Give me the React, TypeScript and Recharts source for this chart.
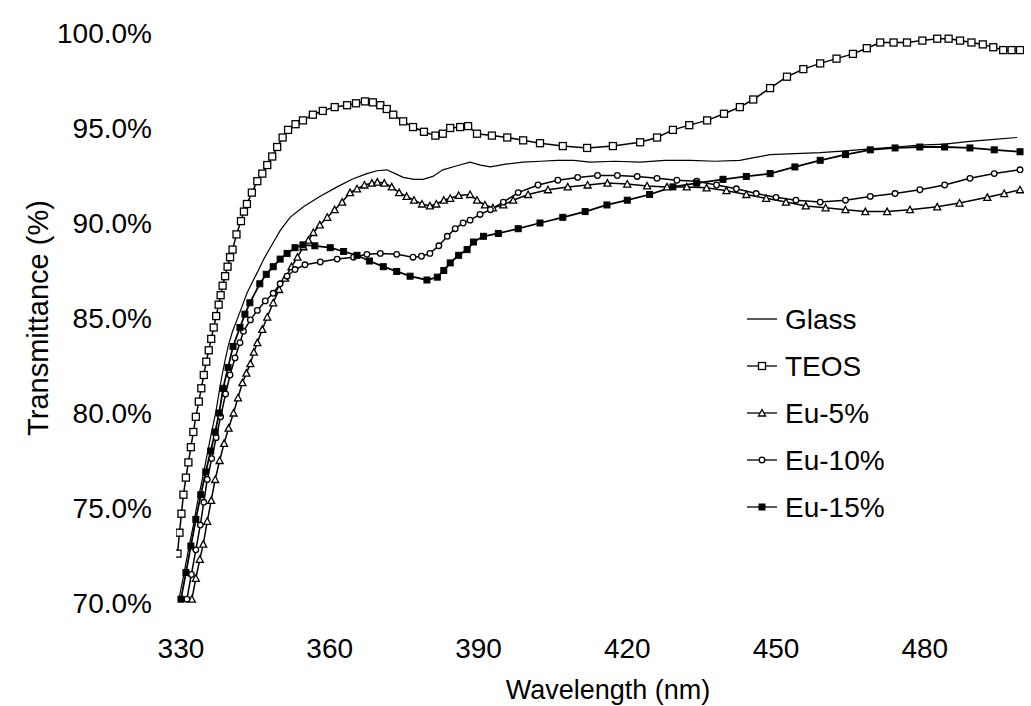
import React from 'react';
import { LineChart, Line, XAxis, YAxis } from 'recharts';

type Pt = [number, number]; // [wavelength nm, transmittance %]

const glass: Pt[] = [
  [329.6, 70.2], [330.5, 71.4], [331.5, 72.8], [332.5, 74.1], [333.4, 75.4], [334.3, 76.5], [335.2, 77.7],
  [336.1, 78.9], [337.0, 80.0], [337.7, 81.1], [338.3, 82.0], [339.0, 82.9], [339.6, 83.6], [340.4, 84.3],
  [341.3, 84.9], [342.3, 85.6], [343.3, 86.3], [344.4, 86.9], [345.4, 87.4], [346.7, 88.1], [348.0, 88.7],
  [350.0, 89.6], [352.0, 90.3], [354.7, 90.85], [358.0, 91.4], [361.5, 91.9], [364.5, 92.3], [367.5, 92.6],
  [369.5, 92.75], [371.5, 92.8], [373.2, 92.6], [374.8, 92.4], [377.0, 92.3], [378.8, 92.3], [380.8, 92.45],
  [382.8, 92.8], [385.5, 93.0], [388.3, 93.2], [390.4, 93.05], [392.4, 92.95], [395.5, 93.1], [399.0, 93.2],
  [402.5, 93.25], [405.9, 93.3], [409.2, 93.3], [412.5, 93.2], [417.5, 93.25], [422.6, 93.2], [427.6, 93.3],
  [432.7, 93.3], [437.7, 93.25], [442.7, 93.3], [445.8, 93.45], [448.8, 93.6], [453.8, 93.65], [458.9, 93.7],
  [464.0, 93.8], [469.0, 93.9], [474.0, 94.0], [479.0, 94.1], [484.0, 94.15], [489.1, 94.3], [494.0, 94.4],
  [498.6, 94.5],
];

const teos: Pt[] = [
  [329.3, 72.6], [329.7, 73.7], [330.1, 74.7], [330.5, 75.7], [331.0, 76.6], [331.5, 77.4], [332.0, 78.2],
  [332.5, 79.0], [333.0, 79.8], [333.6, 80.6], [334.1, 81.3], [334.6, 82.0], [335.1, 82.7], [335.6, 83.3],
  [336.1, 83.9], [336.6, 84.5], [337.1, 85.1], [337.6, 85.7], [338.0, 86.2], [338.4, 86.7], [338.9, 87.2],
  [339.4, 87.7], [339.9, 88.2], [340.4, 88.6], [341.2, 89.4], [342.1, 90.1], [342.7, 90.6], [343.3, 91.0],
  [344.3, 91.6], [345.4, 92.2], [346.4, 92.6], [347.4, 93.05], [348.4, 93.5], [349.4, 94.0], [350.5, 94.5],
  [351.6, 94.9], [353.1, 95.2], [354.6, 95.4], [356.6, 95.7], [358.6, 95.9], [361.0, 96.1], [363.5, 96.2],
  [365.3, 96.3], [367.1, 96.4], [368.7, 96.35], [370.2, 96.2], [371.5, 96.0], [372.8, 95.7], [374.8, 95.35],
  [376.8, 95.05], [379.0, 94.8], [381.3, 94.6], [382.8, 94.7], [384.3, 95.0], [386.3, 95.05], [387.9, 95.1],
  [389.7, 94.7], [392.7, 94.6], [395.8, 94.5], [399.0, 94.35], [402.4, 94.2], [407.0, 94.05], [411.9, 93.95],
  [417.1, 94.05], [422.6, 94.25], [426.0, 94.5], [429.2, 94.9], [432.5, 95.15], [436.1, 95.4], [439.5, 95.75],
  [442.7, 96.1], [445.4, 96.5], [448.8, 97.1], [452.2, 97.7], [455.5, 98.1], [458.9, 98.4], [462.2, 98.65],
  [465.5, 98.9], [468.3, 99.2], [471.0, 99.5], [473.7, 99.5], [476.4, 99.5], [479.5, 99.6], [482.5, 99.7],
  [484.8, 99.7], [487.1, 99.6], [489.4, 99.5], [491.7, 99.4], [493.8, 99.25], [495.8, 99.1], [497.5, 99.1],
  [499.2, 99.1],
];

const eu5: Pt[] = [
  [332.2, 70.2], [333.0, 71.3], [333.8, 72.3], [334.5, 73.1], [335.3, 74.3], [336.1, 75.4], [336.9, 76.5],
  [337.8, 77.5], [338.7, 78.4], [339.6, 79.2], [340.6, 80.0], [341.5, 80.8], [342.4, 81.6], [343.2, 82.1],
  [344.0, 82.6], [344.7, 83.2], [345.4, 83.7], [346.4, 84.4], [347.4, 85.05], [348.6, 85.8], [349.8, 86.5],
  [351.0, 87.1], [352.3, 87.7], [353.5, 88.2], [354.7, 88.75], [355.7, 89.1], [356.7, 89.5], [358.0, 89.9],
  [359.5, 90.3], [361.0, 90.7], [362.5, 91.1], [364.1, 91.6], [365.5, 91.8], [367.0, 92.0], [368.5, 92.1],
  [369.6, 92.15], [371.0, 92.1], [372.5, 91.9], [374.0, 91.6], [375.5, 91.4], [377.0, 91.2], [378.6, 91.0],
  [380.2, 90.9], [381.5, 91.0], [383.0, 91.2], [384.3, 91.3], [386.0, 91.45], [388.3, 91.5], [389.7, 91.2],
  [391.3, 90.95], [392.9, 90.8], [395.0, 90.95], [397.0, 91.2], [400.0, 91.5], [404.0, 91.75], [408.0, 91.9],
  [412.0, 92.0], [416.0, 92.1], [420.0, 92.05], [424.0, 91.95], [428.0, 91.9], [432.0, 91.9], [436.0, 91.85],
  [440.0, 91.7], [444.0, 91.5], [448.0, 91.3], [452.0, 91.1], [456.0, 90.9], [460.0, 90.8], [464.0, 90.7],
  [468.0, 90.6], [472.4, 90.6], [477.0, 90.7], [482.5, 90.85], [487.0, 91.05], [492.6, 91.35], [496.0, 91.55],
  [499.2, 91.75],
];

const eu10: Pt[] = [
  [331.2, 70.2], [332.1, 71.5], [333.0, 72.8], [333.9, 74.1], [334.6, 75.3], [335.3, 76.5], [336.2, 77.6],
  [337.1, 78.7], [338.0, 79.8], [339.0, 81.0], [339.9, 82.0], [340.9, 82.9], [341.9, 83.7], [342.6, 84.3],
  [344.0, 84.9], [345.4, 85.4], [347.0, 85.9], [348.6, 86.3], [350.0, 86.8], [351.4, 87.2], [353.0, 87.55],
  [355.0, 87.8], [358.1, 87.95], [361.5, 88.1], [364.8, 88.2], [367.5, 88.35], [370.2, 88.4], [373.5, 88.35],
  [376.8, 88.2], [378.5, 88.25], [380.2, 88.4], [382.0, 88.8], [383.7, 89.3], [385.3, 89.7], [386.9, 90.0],
  [388.3, 90.15], [390.3, 90.45], [392.4, 90.7], [395.0, 91.1], [398.0, 91.6], [402.0, 92.0], [406.0, 92.25],
  [410.0, 92.4], [414.0, 92.5], [418.0, 92.5], [422.0, 92.45], [426.0, 92.35], [430.0, 92.25], [434.0, 92.2],
  [438.0, 92.0], [442.0, 91.8], [446.0, 91.55], [450.0, 91.35], [454.0, 91.2], [458.9, 91.1], [464.0, 91.2],
  [469.0, 91.4], [474.0, 91.55], [479.0, 91.75], [484.0, 92.0], [489.1, 92.35], [494.0, 92.6], [499.2, 92.8],
];

const eu15: Pt[] = [
  [330.0, 70.2], [331.0, 71.6], [332.0, 73.0], [333.0, 74.4], [334.0, 75.7], [335.0, 76.9], [336.0, 78.0],
  [336.9, 79.0], [337.7, 80.0], [338.5, 81.3], [339.5, 82.4], [340.5, 83.5], [341.9, 84.5], [342.9, 85.2],
  [343.9, 85.8], [345.9, 86.8], [347.2, 87.3], [348.6, 87.7], [350.0, 88.1], [351.4, 88.4], [353.0, 88.7],
  [354.6, 88.85], [357.0, 88.8], [360.1, 88.7], [362.8, 88.5], [365.5, 88.3], [368.0, 88.0], [370.8, 87.7],
  [373.5, 87.45], [376.2, 87.2], [379.6, 87.0], [381.7, 87.15], [383.0, 87.5], [384.3, 87.9], [386.0, 88.3],
  [387.7, 88.6], [389.0, 89.0], [391.0, 89.3], [394.0, 89.45], [398.0, 89.7], [402.4, 90.0], [407.0, 90.3],
  [411.5, 90.6], [415.9, 90.95], [420.0, 91.2], [424.5, 91.5], [429.2, 91.9], [434.0, 92.1], [439.3, 92.3],
  [444.0, 92.45], [448.8, 92.6], [453.8, 92.95], [458.9, 93.3], [464.0, 93.6], [469.0, 93.85], [474.0, 93.95],
  [479.0, 94.0], [484.0, 94.0], [489.1, 93.95], [494.0, 93.85], [499.2, 93.75],
];

const xTicks = [330, 360, 390, 420, 450, 480];
const yTicks = [70, 75, 80, 85, 90, 95, 100];
const legendNames = ['Glass', 'TEOS', 'Eu-5%', 'Eu-10%', 'Eu-15%'];

const FONT = '"Liberation Sans", Arial, Helvetica, sans-serif';

const rows = (pts: Pt[]) => pts.map(([wl, t]) => ({ wl, t }));

// marker shapes
function square(cx: number, cy: number, key?: any) {
  return <rect key={key} x={cx - 3.5} y={cy - 3.5} width={7} height={7} fill="#fff" stroke="#000" strokeWidth={1.3} />;
}
function triangle(cx: number, cy: number, key?: any) {
  return (
    <path key={key} d={`M${cx},${cy - 3.5} L${cx + 3.5},${cy + 3} L${cx - 3.5},${cy + 3} Z`} fill="#fff" stroke="#000" strokeWidth={1.3} />
  );
}
function circle(cx: number, cy: number, key?: any) {
  return <circle key={key} cx={cx} cy={cy} r={2.8} fill="#fff" stroke="#000" strokeWidth={1.3} />;
}
function filled(cx: number, cy: number, key?: any) {
  return <rect key={key} x={cx - 3} y={cy - 3} width={6} height={6} fill="#000" stroke="#000" strokeWidth={1} />;
}

const dotOf = (fn: (cx: number, cy: number, key?: any) => React.ReactElement) => (p: any) =>
  fn(p.cx, p.cy, `d-${p.index}`);

const markers = [null, square, triangle, circle, filled];

export default function App() {
  return (
    <div style={{ position: 'absolute', left: 0, top: 0, width: 1031, height: 706, background: '#fff', fontFamily: FONT }}>
      <LineChart width={1031} height={706} margin={{ top: 33, right: 7, bottom: 0, left: 0 }}>
        <XAxis
          type="number"
          dataKey="wl"
          domain={[329, 500]}
          ticks={xTicks}
          allowDataOverflow
          axisLine={false}
          tickLine={false}
          tickSize={0}
          tickMargin={35}
          height={103}
          tick={{ fontSize: 28, fill: '#000', fontFamily: FONT }}
        />
        <YAxis
          type="number"
          dataKey="t"
          domain={[70, 100]}
          ticks={yTicks}
          allowDataOverflow
          axisLine={false}
          tickLine={false}
          tickSize={0}
          tickMargin={24}
          width={176}
          tickFormatter={(v: number) => `${v.toFixed(1)}%`}
          tick={{ fontSize: 28, fill: '#000', fontFamily: FONT }}
        />
        <Line data={rows(glass)} dataKey="t" name="Glass" type="linear" stroke="#000" strokeWidth={1.2} dot={false} isAnimationActive={false} />
        <Line data={rows(teos)} dataKey="t" name="TEOS" type="linear" stroke="#000" strokeWidth={1.5} dot={dotOf(square)} isAnimationActive={false} />
        <Line data={rows(eu5)} dataKey="t" name="Eu-5%" type="linear" stroke="#000" strokeWidth={1.5} dot={dotOf(triangle)} isAnimationActive={false} />
        <Line data={rows(eu10)} dataKey="t" name="Eu-10%" type="linear" stroke="#000" strokeWidth={1.5} dot={dotOf(circle)} isAnimationActive={false} />
        <Line data={rows(eu15)} dataKey="t" name="Eu-15%" type="linear" stroke="#000" strokeWidth={1.8} dot={dotOf(filled)} isAnimationActive={false} />
      </LineChart>
      <svg width={1031} height={706} style={{ position: 'absolute', left: 0, top: 0, pointerEvents: 'none' }}>
        <text x={38} y={318} transform="rotate(-90 38 318)" textAnchor="middle" dominantBaseline="central" fontSize={29} fontFamily={FONT} fill="#000">
          Transmittance (%)
        </text>
        <text x={608} y={690} textAnchor="middle" dominantBaseline="central" fontSize={27} fontFamily={FONT} fill="#000">
          Wavelength (nm)
        </text>
        {legendNames.map((name, i) => {
          const y = 319 + i * 47;
          const m = markers[i];
          return (
            <g key={name}>
              <line x1={747} x2={777} y1={y} y2={y} stroke="#000" strokeWidth={1.3} />
              {m ? m(762, y) : null}
              <text x={785} y={y} dominantBaseline="central" fontSize={28} fontFamily={FONT} fill="#000">
                {name}
              </text>
            </g>
          );
        })}
      </svg>
    </div>
  );
}
